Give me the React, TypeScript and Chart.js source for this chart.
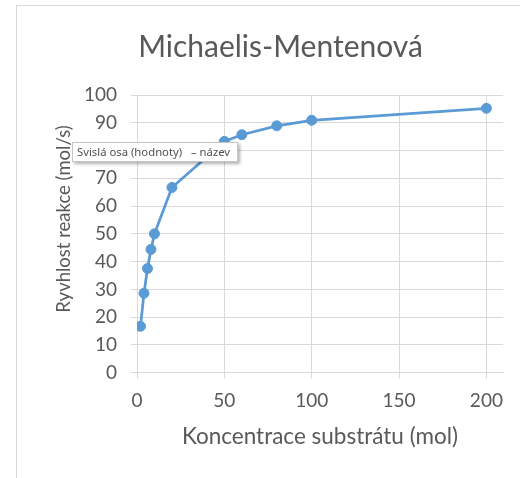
import React, { useEffect, useRef } from "react";
import { Chart, registerables } from "chart.js";

Chart.register(...registerables);

const substrate: number[] = [2, 4, 6, 8, 10, 20, 50, 60, 80, 100, 200];
const rate: number[] = [16.7, 28.6, 37.5, 44.4, 50, 66.7, 83.3, 85.7, 88.9, 90.9, 95.2];
const xTicks: number[] = [0, 50, 100, 150, 200];
const chartTitle = "Michaelis-Mentenová";
const xTitle = "Koncentrace substrátu (mol)";
const yTitle = "Ryvhlost reakce (mol/s)";
const tooltipText = "Svislá osa (hodnoty)   – název";

const FONT = "Lato, 'Open Sans', sans-serif";
const TEXT = "#595959";
const GRID = "#d9d9d9";
const BLUE = "#5b9bd5";

const titlesPlugin = {
  id: "fixedTitles",
  afterDraw(chart: any) {
    const ctx = chart.ctx as CanvasRenderingContext2D;
    ctx.save();
    ctx.fillStyle = TEXT;
    ctx.textAlign = "center";
    ctx.textBaseline = "middle";
    ctx.font = "30px " + FONT;
    ctx.fillText(chartTitle, 280.5, 47);
    ctx.translate(64, 219);
    ctx.rotate(-Math.PI / 2);
    ctx.font = "18.5px " + FONT;
    ctx.fillText(yTitle, 0, 0);
    ctx.restore();
  },
};

export default function App() {
  const ref = useRef<HTMLCanvasElement | null>(null);

  useEffect(() => {
    if (!ref.current) return;
    const chart = new Chart(ref.current, {
      type: "scatter",
      data: {
        datasets: [
          {
            data: substrate.map((x, i) => ({ x, y: rate[i] })),
            showLine: true,
            borderColor: BLUE,
            backgroundColor: BLUE,
            borderWidth: 2.75,
            pointRadius: 5,
            pointBorderWidth: 1,
            pointBackgroundColor: BLUE,
            pointBorderColor: BLUE,
            tension: 0,
          },
        ],
      },
      options: {
        responsive: false,
        animation: false,
        layout: { padding: { left: 0, right: 17, top: 95, bottom: 0 } },
        plugins: {
          legend: { display: false },
          tooltip: { enabled: false },
          title: { display: false },
        },
        scales: {
          x: {
            type: "linear",
            min: 0,
            max: 209.5,
            afterBuildTicks: (s: any) => {
              s.ticks = xTicks.map((v) => ({ value: v }));
            },
            afterFit: (s: any) => {
              s.height = 105.3;
            },
            grid: { color: GRID, lineWidth: 1, tickLength: 6, drawTicks: true },
            border: { color: GRID, width: 1 },
            ticks: {
              color: TEXT,
              font: { family: FONT, size: 19 },
              padding: 10.5,
              maxRotation: 0,
            },
            title: {
              display: true,
              text: xTitle,
              color: TEXT,
              font: { family: FONT, size: 22.5, lineHeight: 1.2 },
              padding: { top: 0, bottom: 27.5 },
            },
          },
          y: {
            type: "linear",
            min: 0,
            max: 100,
            afterFit: (s: any) => {
              s.width = 137;
            },
            grid: { color: GRID, lineWidth: 1, tickLength: 6, drawTicks: true },
            border: { color: GRID, width: 1 },
            ticks: {
              stepSize: 10,
              color: TEXT,
              font: { family: FONT, size: 19 },
              padding: 14,
            },
            title: { display: false },
          },
        },
      },
      plugins: [titlesPlugin],
    });
    return () => chart.destroy();
  }, []);

  return (
    <div
      style={{
        position: "fixed",
        left: 0,
        top: 0,
        width: 520,
        height: 478,
        background: "#ffffff",
        overflow: "hidden",
      }}
    >
      <div
        style={{
          position: "absolute",
          left: 16,
          top: 5,
          width: 520,
          height: 480,
          borderLeft: "1px solid " + GRID,
          borderTop: "1px solid " + GRID,
        }}
      />
      <canvas ref={ref} width={520} height={478} style={{ position: "absolute", left: 0, top: 0 }} />
      <div
        style={{
          position: "absolute",
          left: 72,
          top: 142,
          height: 18,
          padding: "0 7px 0 4px",
          background: "#ffffff",
          border: "1px solid #c6c6c6",
          boxShadow: "2px 2px 3px rgba(0,0,0,0.3)",
          color: "#505050",
          font: "11.3px 'Noto Sans', 'Open Sans', sans-serif",
          lineHeight: "18px",
          whiteSpace: "pre",
        }}
      >
        {tooltipText}
      </div>
    </div>
  );
}
